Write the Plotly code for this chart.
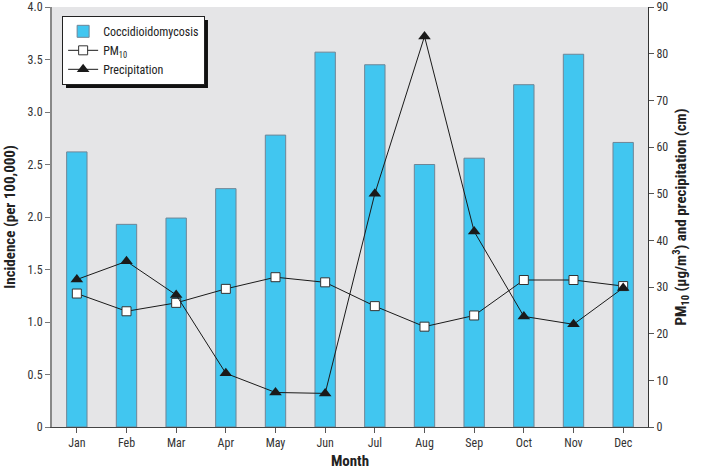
import plotly.graph_objects as go

months = ["Jan", "Feb", "Mar", "Apr", "May", "Jun", "Jul", "Aug", "Sep", "Oct", "Nov", "Dec"]
cocci = [2.62, 1.93, 1.99, 2.27, 2.78, 3.57, 3.45, 2.50, 2.56, 3.26, 3.55, 2.71]
pm10 = [28.6, 24.8, 26.6, 29.6, 32.1, 31.0, 25.9, 21.5, 23.9, 31.5, 31.5, 30.2]
precip = [31.6, 35.5, 28.3, 11.5, 7.4, 7.2, 50.0, 83.7, 41.9, 23.7, 22.0, 29.8]
left_ticks = [0, 0.5, 1.0, 1.5, 2.0, 2.5, 3.0, 3.5, 4.0]
left_labels = ["0", "0.5", "1.0", "1.5", "2.0", "2.5", "3.0", "3.5", "4.0"]
right_ticks = [0, 10, 20, 30, 40, 50, 60, 70, 80, 90]

FONT = "Liberation Sans Narrow, Roboto Condensed, Arial Narrow, Liberation Sans, sans-serif"

fig = go.Figure()
fig.add_trace(go.Bar(
    x=months, y=cocci, name="Coccidioidomycosis", width=0.41,
    marker=dict(color="#41c6f0", line=dict(color="#6f8596", width=1)),
))
fig.add_trace(go.Scatter(
    x=months, y=pm10, name="PM<sub>10</sub>", yaxis="y2", mode="lines+markers",
    line=dict(color="#1a1a1a", width=1),
    marker=dict(symbol="square", size=9, color="white", line=dict(color="#333", width=1)),
))
fig.add_trace(go.Scatter(
    x=months, y=precip, name="Precipitation", yaxis="y2", mode="lines+markers",
    line=dict(color="#1a1a1a", width=1),
    marker=dict(symbol="triangle-up", size=11, color="#1a1a1a"),
))

fig.update_layout(
    width=704, height=472,
    margin=dict(l=52, r=56, t=7, b=45),
    paper_bgcolor="white", plot_bgcolor="#e5e5e7",
    font=dict(family=FONT, size=12, color="#333"),
    showlegend=True,
    legend=dict(
        x=0.017, y=0.979, xanchor="left", yanchor="top",
        bgcolor="white", bordercolor="#222", borderwidth=1,
        font=dict(family=FONT, size=12, color="#222"),
        tracegroupgap=0, itemwidth=30,
    ),
    xaxis=dict(
        range=[-0.5, 11.5], showgrid=False, ticks="outside", ticklen=5,
        tickcolor="#555", showline=True, linecolor="#444", linewidth=1,
        automargin=False,
        title=dict(text="<b>Month</b>", font=dict(family=FONT, size=15, color="#222"), standoff=6),
        tickfont=dict(size=12, color="#333"),
    ),
    yaxis=dict(
        range=[0, 4.0], tickvals=left_ticks, ticktext=left_labels,
        showgrid=False, zeroline=False, ticks="outside", ticklen=5, tickcolor="#777",
        showline=True, linecolor="#888", linewidth=2, automargin=False,
        title=dict(text="<b>Incidence (per 100,000)</b>", font=dict(family=FONT, size=15, color="#222"), standoff=8),
        tickfont=dict(size=12, color="#333"),
    ),
    yaxis2=dict(
        range=[0, 90], tickvals=right_ticks, overlaying="y", side="right",
        showgrid=False, zeroline=False, ticks="outside", ticklen=5, tickcolor="#555",
        showline=True, linecolor="#333", linewidth=1, automargin=False,
        title=dict(text="<b>PM<sub>10</sub> (µg/m<sup>3</sup>) and precipitation (cm)</b>",
                   font=dict(family=FONT, size=15, color="#222"), standoff=8),
        tickfont=dict(size=12, color="#333"),
    ),
    shapes=[dict(
        type="rect", xref="paper", yref="paper", layer="above",
        x0=0.0235, x1=0.2617, y0=0.807, y1=0.969,
        fillcolor="#111", line=dict(width=0),
    )],
)

fig.write_html("out.html", config={"displayModeBar": False},
               post_script="document.body.style.margin='0';")
